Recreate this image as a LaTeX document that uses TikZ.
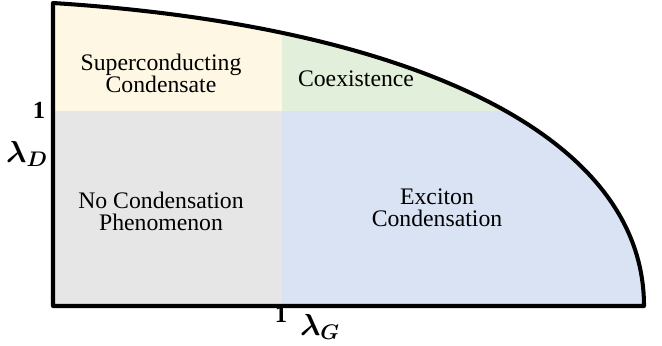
\documentclass[tikz,border=0pt]{standalone}
\usepackage{amsmath}
\usepackage{fontspec}
\setmainfont{Liberation Serif}
\usetikzlibrary{positioning}
\definecolor{cyellow}{HTML}{FEF7E4}
\definecolor{cgreen}{HTML}{E2EFDA}
\definecolor{cgrey}{HTML}{E6E6E6}
\definecolor{cblue}{HTML}{DAE3F3}
\tikzset{
  region/.style={font=\fontsize{13.5}{12.6}\selectfont, align=center, inner sep=0pt},
  tick/.style={font=\fontsize{14}{14}\selectfont\bfseries, inner sep=0pt},
  axlabel/.style={font=\fontsize{18}{18}\selectfont\boldmath, inner sep=0pt},
  border/.style={draw=black, line width=2.3pt, line join=round},
}
\begin{document}
\begin{tikzpicture}[x=0.02cm, y=-0.02cm]
  \useasboundingbox (0,0) rectangle (662,345);
  % ---- corners of the phase region ----
  \coordinate (top) at (53,3);
  \coordinate (orig) at (53,306);
  \coordinate (tip) at (644,306);
  % ---- coloured phases, clipped to the boundary ----
  \begin{scope}
    \clip (top) .. controls (400,25) and (644,130) .. (tip) -- (orig) -- cycle;
    \fill[cyellow] (53,0) rectangle (282,111);
    \fill[cgreen] (282,0) rectangle (662,111);
    \fill[cgrey] (53,111) rectangle (282,306);
    \fill[cblue] (282,111) rectangle (662,306);
  \end{scope}
  \draw[border] (top) .. controls (400,25) and (644,130) .. (tip) -- (orig) -- cycle;
  % ---- phase names ----
  \node[region] (sc) at (161,73) {Superconducting\\Condensate};
  \node[region] (coex) at (356,79) {Coexistence};
  \node[region] (none) at (161,211) {No Condensation\\Phenomenon};
  \node[region] (exc) at (437,208) {Exciton\\Condensation};
  % ---- axes ----
  \node[tick] (oneD) at (39,110) {1};
  \node[axlabel] (lamD) at (27,154) {$\lambda_D$};
  \node[tick] (oneG) at (281,314) {1};
  \node[axlabel] (lamG) at (320,327) {$\lambda_G$};
\end{tikzpicture}
\end{document}
